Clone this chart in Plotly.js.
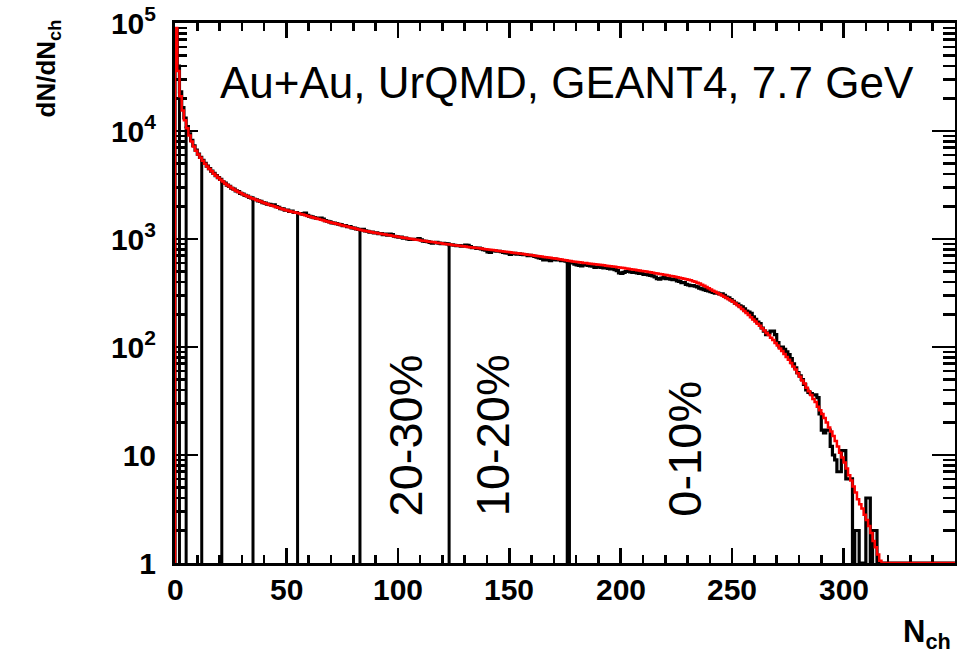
<!DOCTYPE html>
<html>
<head>
<meta charset="utf-8">
<script src="https://cdn.plot.ly/plotly-3.0.1.min.js"></script>
<style>
  html, body { margin: 0; padding: 0; background: #fff; }
  #plot { width: 957px; height: 657px; }
</style>
</head>
<body>
<div id="plot"></div>
<script>
// Charged-particle multiplicity distribution, one N_ch unit per bin, bins start at 0.
const dataCounts = [
  88000, 40000, 23000, 16500, 13200, 11000, 9400, 8200, 7300, 6650,
  6100, 5700, 5350, 5020, 4730, 4480, 4250, 4060, 3870, 3700,
  3560, 3390, 3290, 3150, 3070, 2950, 2890, 2790, 2740, 2650,
  2610, 2530, 2500, 2430, 2400, 2330, 2310, 2250, 2230, 2170,
  2150, 2100, 2090, 2060, 2070, 1990, 1960, 1910, 1900, 1850,
  1850, 1800, 1810, 1760, 1760, 1720, 1720, 1700, 1740, 1660,
  1620, 1600, 1580, 1560, 1550, 1560, 1530, 1480, 1460, 1440,
  1410, 1400, 1390, 1370, 1360, 1330, 1330, 1300, 1300, 1270,
  1260, 1240, 1230, 1215, 1230, 1190, 1180, 1160, 1160, 1140,
  1140, 1120, 1120, 1100, 1110, 1085, 1110, 1100, 1060, 1050,
  1040, 1040, 1020, 1020, 1000, 990, 990, 995, 990, 1010,
  980, 955, 950, 945, 930, 915, 925, 930, 915, 905,
  910, 905, 900, 880, 885, 875, 870, 870, 860, 865,
  880, 875, 850, 830, 830, 820, 825, 810, 795, 790,
  760, 750, 775, 780, 770, 770, 765, 750, 745, 740,
  720, 730, 735, 725, 730, 720, 715, 715, 700, 705,
  700, 690, 680, 670, 660, 640, 650, 640, 630, 645,
  650, 640, 645, 630, 630, 625, 615, 610, 600, 585,
  575, 570, 565, 580, 575, 570, 565, 560, 545, 550,
  555, 545, 540, 540, 535, 530, 530, 520, 510, 485,
  480, 490, 500, 500, 495, 490, 490, 485, 480, 480,
  470, 470, 465, 460, 455, 445, 430, 425, 435, 440,
  430, 430, 425, 420, 420, 410, 405, 395, 395, 380,
  375, 370, 370, 365, 360, 350, 345, 340, 335, 330,
  325, 320, 315, 315, 310, 310, 300, 290, 285, 275,
  265, 255, 250, 240, 235, 225, 215, 210, 205, 190,
  180, 170, 165, 150, 140, 130, 135, 140, 140, 130,
  110, 100, 100, 95, 90, 85, 78, 70, 64, 58,
  54, 50, 45, 40, 38, 37, 36, 36, 34, 24,
  17, 16, 17, 17, 12, 10, 9, 7, 7, 11,
  11, 6, 6, 6, 0, 2, 2, 0, 0, 0,
  4, 4, 0, 2, 2, 0, 0, 0, 0, 0
];

// Model (fit) distribution on the same binning.
const fitCounts = [
  90000, 36000, 21000, 15500, 12600, 10600, 9100, 8000, 7200, 6550,
  6050, 5650, 5300, 4980, 4700, 4450, 4230, 4030, 3850, 3690,
  3540, 3400, 3270, 3160, 3060, 2960, 2880, 2800, 2730, 2660,
  2600, 2540, 2490, 2440, 2390, 2340, 2300, 2260, 2220, 2180,
  2140, 2110, 2070, 2040, 2010, 1980, 1950, 1920, 1890, 1860,
  1840, 1810, 1790, 1770, 1750, 1730, 1706, 1683, 1660, 1637,
  1615, 1593, 1572, 1551, 1530, 1510, 1490, 1471, 1452, 1433,
  1415, 1398, 1382, 1366, 1350, 1335, 1319, 1303, 1287, 1271,
  1255, 1240, 1225, 1210, 1199, 1188, 1177, 1166, 1155, 1145,
  1135, 1126, 1117, 1108, 1099, 1090, 1081, 1072, 1063, 1054,
  1045, 1037, 1029, 1021, 1013, 1006, 999, 992, 985, 977,
  970, 963, 957, 950, 944, 937, 931, 924, 918, 911,
  905, 899, 893, 888, 882, 876, 870, 865, 860, 855,
  850, 845, 840, 835, 830, 825, 820, 815, 810, 805,
  800, 795, 790, 785, 780, 776, 771, 766, 762, 757,
  752, 747, 743, 738, 734, 729, 725, 720, 716, 711,
  706, 701, 697, 692, 688, 683, 678, 674, 669, 665,
  660, 655, 650, 645, 640, 635, 630, 625, 620, 616,
  612, 608, 605, 601, 598, 594, 591, 587, 584, 580,
  577, 573, 570, 566, 563, 559, 556, 552, 549, 545,
  542, 538, 534, 530, 526, 522, 518, 514, 510, 506,
  503, 499, 495, 491, 487, 483, 479, 475, 471, 467,
  463, 459, 455, 451, 447, 443, 438, 434, 429, 425,
  420, 414, 407, 401, 394, 387, 378, 369, 359, 349,
  340, 332, 324, 316, 308, 300, 292, 285, 277, 270,
  262, 253, 243, 234, 225, 216, 207, 198, 189, 180,
  172, 164, 157, 149, 142, 135, 129, 122, 116, 109,
  103, 97, 92, 86, 81, 76, 71, 66, 62, 57,
  53, 49, 46, 42, 39, 36, 33, 31, 28, 26,
  24, 22, 20, 18, 16.5, 15, 13.5, 12, 10.5, 9.5,
  8.5, 7.5, 6.5, 5.8, 5.1, 4.5, 3.9, 3.5, 3.2, 2.8,
  2.5, 2.2, 1.9, 1.6, 1.4, 1.2, 1.05, 0, 0, 0
];

// Centrality class boundaries in N_ch.
const centralityCuts = [2, 5, 12, 21, 35, 55, 83, 123, 176, 177];
const classLabels = ['20-30%', '10-20%', '0-10%'];

const xTickVals = [0, 50, 100, 150, 200, 250, 300];
const yTickVals = [1, 10, 100, 1000, 10000, 100000];
const yTickText = ['1', '10', '10<sup>2</sup>', '10<sup>3</sup>', '10<sup>4</sup>', '10<sup>5</sup>'];

const NCH_MAX = 350;   // upper edge of the histogram range
const Y_MIN = 1;       // frame minimum; empty bins are drawn on it

// Outline a histogram as a step line, starting from the frame floor.
function stepTrace(counts, color, width) {
  const x = [0], y = [Y_MIN];
  counts.forEach((v, i) => { x.push(i); y.push(Math.max(v, Y_MIN)); });
  x.push(NCH_MAX); y.push(Math.max(counts[counts.length - 1], Y_MIN));
  return {
    type: 'scatter', mode: 'lines', x: x, y: y,
    line: { shape: 'hv', color: color, width: width },
    hoverinfo: 'skip'
  };
}

// Vertical markers from the floor up to the histogram at each cut.
const cutX = [], cutY = [];
centralityCuts.forEach(c => {
  cutX.push(c, c, null);
  cutY.push(Y_MIN, Math.max(dataCounts[Math.floor(c)], Y_MIN), null);
});
const cutTrace = {
  type: 'scatter', mode: 'lines', x: cutX, y: cutY,
  line: { color: '#000', width: 3 }, hoverinfo: 'skip'
};

// Minor log ticks at 2..9 of every decade.
const yMinor = [];
for (let d = 0; d < 5; d++) for (let k = 2; k <= 9; k++) yMinor.push(k * Math.pow(10, d));

const FONT = 'Liberation Sans, Arial, Helvetica, sans-serif';
const TICK_FONT = { family: FONT, size: 30, weight: 700, color: '#000' };

const axisCommon = {
  showline: true, linewidth: 3, linecolor: '#000', mirror: 'allticks',
  showgrid: false, zeroline: false, ticks: 'inside', tickwidth: 2.5, tickcolor: '#000',
  tickfont: TICK_FONT, layer: 'below traces', fixedrange: true
};

// Horizontal-axis numbers sit close under the frame, as annotations.
const xLabelAnnotations = xTickVals.map(v => ({
  text: String(v), xref: 'x', yref: 'paper', x: v, y: -0.015,
  xanchor: 'center', yanchor: 'top', showarrow: false, font: TICK_FONT
}));

const layout = {
  width: 957, height: 657,
  margin: { l: 175, r: 2, t: 23, b: 94 },
  paper_bgcolor: '#fff', plot_bgcolor: '#fff',
  showlegend: false,
  font: { family: FONT, color: '#000' },
  xaxis: Object.assign({}, axisCommon, {
    range: [0, NCH_MAX], tickmode: 'array', tickvals: xTickVals, ticklen: 15,
    showticklabels: false,
    minor: { dtick: 10, tick0: 0, ticks: 'inside', ticklen: 8, tickwidth: 2.5, tickcolor: '#000' }
  }),
  yaxis: Object.assign({}, axisCommon, {
    type: 'log', range: [0, 5], tickmode: 'array',
    tickvals: yTickVals, ticktext: yTickText, ticklen: 23,
    ticklabelstandoff: 10,
    minor: { tickmode: 'array', tickvals: yMinor, ticks: 'inside', ticklen: 12, tickwidth: 2.5, tickcolor: '#000' }
  }),
  annotations: xLabelAnnotations.concat([
    { text: 'Au+Au, UrQMD, GEANT4, 7.7 GeV', xref: 'paper', yref: 'paper',
      x: 0.5026, y: 0.889, xanchor: 'center', yanchor: 'middle', showarrow: false,
      font: { family: FONT, size: 44, color: '#000' } },
    { text: classLabels[0], xref: 'paper', yref: 'paper', x: 0.2958, y: 0.082,
      xanchor: 'center', yanchor: 'bottom', textangle: -90, showarrow: false,
      font: { family: FONT, size: 47, color: '#000' } },
    { text: classLabels[1], xref: 'paper', yref: 'paper', x: 0.4071, y: 0.082,
      xanchor: 'center', yanchor: 'bottom', textangle: -90, showarrow: false,
      font: { family: FONT, size: 47, color: '#000' } },
    { text: classLabels[2], xref: 'paper', yref: 'paper', x: 0.6538, y: 0.082,
      xanchor: 'center', yanchor: 'bottom', textangle: -90, showarrow: false,
      font: { family: FONT, size: 47, color: '#000' } },
    { text: 'dN/dN<sub>ch</sub>', xref: 'paper', yref: 'paper', x: -0.163, y: 1.01,
      xanchor: 'center', yanchor: 'top', textangle: -90, showarrow: false,
      font: { family: FONT, size: 26, weight: 700, color: '#000' } },
    { text: 'N<sub>ch</sub>', xref: 'paper', yref: 'paper', x: 0.997, y: -0.09,
      xanchor: 'right', yanchor: 'top', showarrow: false,
      font: { family: FONT, size: 31, weight: 700, color: '#000' } }
  ])
};

const traces = [
  stepTrace(dataCounts, '#000', 3.2),
  cutTrace,
  stepTrace(fitCounts, '#ff0000', 2.5)
];

Plotly.newPlot('plot', traces, layout, { staticPlot: true, displayModeBar: false });
</script>
</body>
</html>
